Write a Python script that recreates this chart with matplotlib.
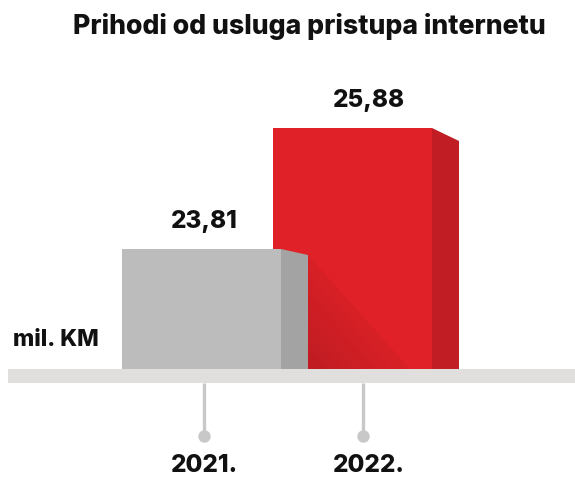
import matplotlib
matplotlib.use("Agg")
import matplotlib.pyplot as plt
from matplotlib.patches import Polygon, Rectangle
from matplotlib.colors import LinearSegmentedColormap
import numpy as np

plt.rcParams['font.family'] = ['Inter', 'DejaVu Sans']

# ---- data ----
categories = ["2021.", "2022."]
values = [23.81, 25.88]
value_labels = ["23,81", "25,88"]
title = "Prihodi od usluga pristupa internetu"
unit_label = "mil. KM"

# ---- layout (pixels) ----
W, H = 575, 478
dpi = 100
base_px = 369
px_per_unit = 121 / (values[1] - values[0])
base_val = values[0] - (base_px - 249) / px_per_unit
ytop = base_val + base_px / px_per_unit
ybot = base_val - (H - base_px) / px_per_unit

bar_cx = [201.5, 352.5]
bar_w = 159
depth = 27
drops_px = [6, 13]
label_x = [204.5, 368.5]
stem_x = [203.5, 363]

front_cols = ["#BBBCBB", "#E02228"]
side_cols = ["#A2A3A2", "#C01E24"]
txt_col = "#111111"
wt = "heavy"

fig = plt.figure(figsize=(W / dpi, H / dpi), dpi=dpi)
fig.patch.set_facecolor("white")
ax = fig.add_axes([0, 0, 1, 1])
ax.set_xlim(0, W)
ax.set_ylim(ybot, ytop)
ax.axis("off")

def pv(px):  # pixel height -> value units
    return px / px_per_unit

order = [1, 0]
for i in order:
    v = values[i]
    z = 2 + (1 - i) * 3
    ax.bar(bar_cx[i], v - base_val, width=bar_w, bottom=base_val,
           color=front_cols[i], linewidth=0, zorder=z)
    xr = bar_cx[i] + bar_w / 2
    side = Polygon([(xr, base_val), (xr, v), (xr + depth, v - pv(drops_px[i])),
                    (xr + depth, base_val)], closed=True, facecolor=side_cols[i],
                   linewidth=0, zorder=z)
    ax.add_patch(side)
    if i == 1:
        xg = bar_cx[0] + bar_w / 2 + depth
        yg = values[0] - pv(drops_px[0])
        tri = Polygon([(xg, yg), (xg, base_val), (xg + 102, base_val)], closed=True,
                      facecolor="none", edgecolor="none", zorder=3)
        ax.add_patch(tri)
        xs = np.linspace(0, 1, 256)
        ys = np.linspace(0, 1, 256)
        X, Y = np.meshgrid(xs, ys)
        G = np.clip((X + (1 - Y)) / 1.3, 0, 1)
        cmap = LinearSegmentedColormap.from_list("sh", ["#BE1C22", "#E02228"])
        im = ax.imshow(G, cmap=cmap, extent=[xg, xg + 102, base_val, yg],
                       origin="upper", aspect="auto", zorder=3, interpolation="bilinear")
        im.set_clip_path(tri)

    ax.annotate(value_labels[i], (label_x[i], v), xytext=(0, 21),
                textcoords="offset pixels", ha="center", va="baseline",
                fontsize=17.5, fontweight=wt, color=txt_col, zorder=10)

ax.set_xlim(0, W)
ax.set_ylim(ybot, ytop)

# baseline band
ax.add_patch(Rectangle((8, base_val - pv(14)), W - 8, pv(14),
                       facecolor="#E0DFDD", linewidth=0, zorder=8))

# stems and dots
for sx in stem_x:
    ax.plot([sx, sx], [base_val - pv(14), base_val - pv(67)], color="#C8C8C8",
            linewidth=2.4, zorder=7, solid_capstyle="butt")
    ax.scatter([sx], [base_val - pv(67)], s=80, color="#C8C8C8", zorder=7, linewidths=0)

# year labels
for lx, c in zip(label_x, categories):
    fig.text(lx / W, 1 - 477 / H, c, ha="center", va="bottom",
             fontsize=17.5, fontweight=wt, color=txt_col)

fig.text(13 / W, 1 - 346 / H, unit_label, ha="left", va="baseline",
         fontsize=16.5, fontweight=wt, color=txt_col)

fig.text(309 / W, 1 - 34 / H, title, ha="center", va="baseline",
         fontsize=19.2, fontweight=wt, color=txt_col)

fig.savefig("out.png", dpi=dpi, facecolor="white")
